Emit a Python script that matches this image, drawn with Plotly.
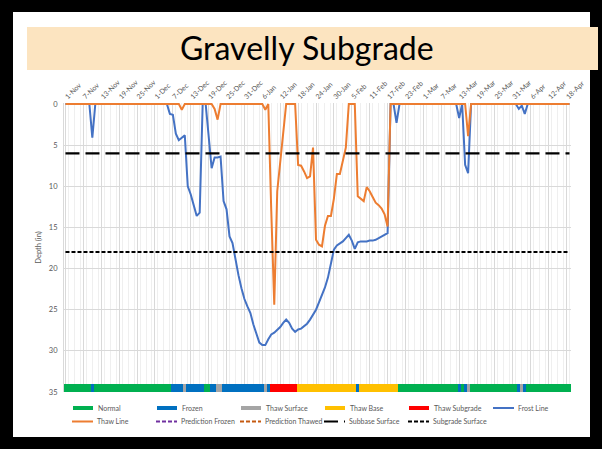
import plotly.graph_objects as go
import pandas as pd

# ---------------- data ----------------
start_date = "2021-11-01"
n_days = 170
dates = pd.date_range(start_date, periods=n_days, freq="D")

# Frost line depth (in), one value per day
frost_line = (
    [0] * 9 + [4.1] + [0] * 25 +
    [1.2, 1.3, 3.6, 4.4, 4.1, 3.8, 10.0, 11.0, 12.3, 13.6, 13.2, 0, 0, 3.9, 7.8,
     6.5, 6.5, 6.4, 11.8, 12.8, 16.1, 16.9, 19.0, 20.8, 22.4, 23.7, 24.6, 25.4,
     26.8, 28.0, 29.0, 29.3, 29.3, 28.6, 28.0, 27.8, 27.5, 27.1, 26.6, 26.2, 26.6,
     27.3, 27.7, 27.4, 27.3, 27.0, 26.7, 26.2, 25.6, 25.0, 24.1, 23.2, 22.3, 21.1,
     19.5, 17.7, 17.2, 17.0, 16.7, 16.3, 15.9, 16.6, 17.6, 16.8, 16.7, 16.7, 16.7,
     16.6, 16.6, 16.5, 16.3, 16.1, 15.9, 15.7] +
    [0, 0, 2.3] + [0] * 20 + [1.7, 0, 7.4, 8.4] + [0] * 16 + [0.6, 0.2, 1.2] + [0] * 15
)

# Thaw line depth (in), one value per day
thaw_line = (
    [0] * 39 + [0.7] + [0] * 10 + [0.6, 1.9] + [0] * 15 + [0.7, 0] +
    [13.0, 24.4, 10.6, 7.0, 4.1] + [0] * 4 +
    [7.4, 7.5, 8.2, 9.0, 8.8, 5.3, 16.5, 17.1, 17.3, 14.8, 13.6, 13.6, 11.5, 8.5,
     8.5, 6.9, 5.3] + [0] * 3 +
    [11.2, 11.5, 11.8, 10.1, 10.6, 11.3, 12.0, 12.3, 12.7, 13.4, 14.9] +
    [0] * 26 + [3.9] + [0] * 34
)

# Daily status as runs of (status, number of days)
status_runs = [
    ("Normal", 9), ("Frozen", 1), ("Normal", 26), ("Frozen", 4), ("Thaw Surface", 1),
    ("Frozen", 6), ("Normal", 2), ("Frozen", 2), ("Thaw Surface", 2), ("Frozen", 14),
    ("Thaw Surface", 1), ("Frozen", 1), ("Thaw Subgrade", 9), ("Thaw Base", 20),
    ("Frozen", 1), ("Thaw Base", 13), ("Normal", 20), ("Frozen", 1), ("Normal", 1),
    ("Frozen", 1), ("Thaw Surface", 1), ("Normal", 16), ("Frozen", 1),
    ("Thaw Surface", 1), ("Frozen", 1), ("Normal", 15),
]
status_names = ["Normal", "Frozen", "Thaw Surface", "Thaw Base", "Thaw Subgrade"]
status_colors = ["#00B050", "#0070C0", "#A5A5A5", "#FFC000", "#FF0000"]

subbase_surface = 6
subgrade_surface = 18
status_band_top = 34
status_band_height = 1

# legend entries: (label, kind, colour, dash)
legend_rows = [
    [("Normal", "box", "#00B050", None), ("Frozen", "box", "#0070C0", None),
     ("Thaw Surface", "box", "#A5A5A5", None), ("Thaw Base", "box", "#FFC000", None),
     ("Thaw Subgrade", "box", "#FF0000", None), ("Frost Line", "line", "#4472C4", None)],
    [("Thaw Line", "line", "#ED7D31", None), ("Prediction Frozen", "line", "#7030A0", "4px,2px"),
     ("Prediction Thawed", "line", "#C55A11", "4px,2px"),
     ("Subbase Surface", "line", "black", "14px,6px"),
     ("Subgrade Surface", "line", "black", "4px,2px")],
]

# ---------------- figure ----------------
W, H = 602, 449
L, R, T, B = 64, 31, 103, 57
PW, PH = W - L - R, H - T - B


def px(xp):
    return (xp - L) / PW


def py(yp):
    return (H - B - yp) / PH


status_by_day = []
for name, count in status_runs:
    status_by_day += [name] * count

fig = go.Figure()
DAY = 86400000

for name, color in zip(status_names, status_colors):
    xs = [d for d, s in zip(dates, status_by_day) if s == name]
    fig.add_trace(go.Bar(
        x=xs, y=[status_band_height] * len(xs), base=status_band_top, width=DAY,
        marker=dict(color=color, line=dict(width=0)), name=name,
        showlegend=False, hoverinfo="x+name"))

fig.add_trace(go.Scatter(x=dates, y=frost_line, mode="lines", name="Frost Line",
                         line=dict(color="#4472C4", width=2), showlegend=False))
fig.add_trace(go.Scatter(x=dates, y=thaw_line, mode="lines", name="Thaw Line",
                         line=dict(color="#ED7D31", width=2), showlegend=False))
fig.add_trace(go.Scatter(x=[dates[0], dates[-1]], y=[subbase_surface] * 2, mode="lines",
                         name="Subbase Surface", showlegend=False,
                         line=dict(color="black", width=2.2, dash="14px,6px")))
fig.add_trace(go.Scatter(x=[dates[0], dates[-1]], y=[subgrade_surface] * 2, mode="lines",
                         name="Subgrade Surface", showlegend=False,
                         line=dict(color="black", width=2, dash="4px,2px")))

grey = "#595959"
font_family = "Lato, 'Open Sans', sans-serif"

x0 = pd.Timestamp(start_date) - pd.Timedelta(hours=12)
x1 = pd.Timestamp(start_date) + pd.Timedelta(days=n_days - 1, hours=12)

shapes = [
    dict(type="rect", xref="paper", yref="paper", layer="below",
         x0=px(13), x1=px(590), y0=py(437), y1=py(12),
         fillcolor="white", line=dict(width=0)),
    dict(type="rect", xref="paper", yref="paper", layer="below",
         x0=px(27), x1=px(598), y0=py(70), y1=py(27),
         fillcolor="#FCE4C0", line=dict(width=0)),
]
annotations = [
    dict(text="Gravelly Subgrade", xref="paper", yref="paper",
         x=px(307), y=py(48), xanchor="center", yanchor="middle", showarrow=False,
         font=dict(size=32, color="black", family=font_family)),
]

# legend drawn as swatches + labels
leg_x0, leg_step = 73, 84
leg_y = [408, 421.5]
for r, row in enumerate(legend_rows):
    yy = leg_y[r]
    for c, (label, kind, color, dash) in enumerate(row):
        xs0 = leg_x0 + c * leg_step - (1 if r == 1 else 0)
        if kind == "box":
            shapes.append(dict(type="rect", xref="paper", yref="paper",
                               x0=px(xs0), x1=px(xs0 + 20), y0=py(yy + 2), y1=py(yy - 2),
                               fillcolor=color, line=dict(width=0)))
        else:
            ln = dict(color=color, width=2)
            if dash:
                ln["dash"] = dash
            shapes.append(dict(type="line", xref="paper", yref="paper",
                               x0=px(xs0), x1=px(xs0 + 21), y0=py(yy), y1=py(yy), line=ln))
        annotations.append(dict(text=label, xref="paper", yref="paper",
                                x=px(xs0 + 23), y=py(yy), xanchor="left", yanchor="middle",
                                showarrow=False, font=dict(size=7, color=grey)))

fig.update_layout(
    width=W, height=H,
    margin=dict(l=L, r=R, t=T, b=B, pad=0, autoexpand=False),
    paper_bgcolor="black", plot_bgcolor="white",
    bargap=0, barmode="overlay", showlegend=False,
    font=dict(family=font_family, color=grey, size=7),
    xaxis=dict(
        type="date", side="top", range=[x0, x1], automargin=False,
        tick0=start_date, dtick=6 * DAY, tickformat="%-d-%b", tickangle=-45,
        tickfont=dict(size=7, color=grey), ticks="",
        showgrid=True, gridcolor="#D9D9D9", gridwidth=1,
        minor=dict(dtick=2 * DAY, showgrid=True, gridcolor="#EFEFEF", gridwidth=1),
        showline=False, zeroline=False,
    ),
    yaxis=dict(
        range=[35, -0.12], tickvals=[0, 5, 10, 15, 20, 25, 30, 35], automargin=False,
        tickfont=dict(size=7.5, color=grey), ticks="",
        showgrid=True, gridcolor="#D9D9D9", gridwidth=1,
        showline=True, linecolor="#D9D9D9", linewidth=1,
        zeroline=False, ticklabelstandoff=4,
        title=dict(text="Depth (in)", font=dict(size=7.5, color=grey), standoff=6),
    ),
    shapes=shapes,
    annotations=annotations,
)

fig.write_html(
    "out.html",
    config={"displayModeBar": False},
    post_script="document.body.style.margin='0';document.body.style.overflow='hidden';",
)
